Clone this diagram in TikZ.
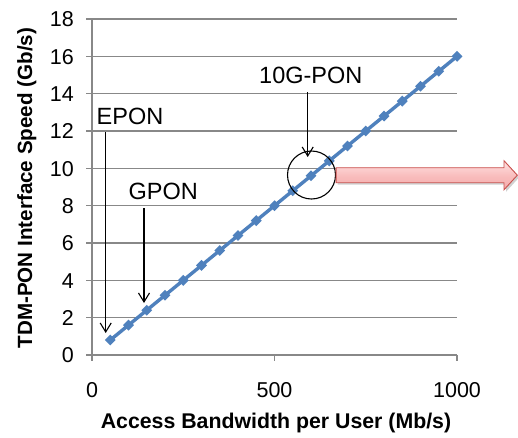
\documentclass[tikz,border=0pt]{standalone}
\usepackage{fontspec}
\setmainfont{Liberation Sans}
\usetikzlibrary{arrows.meta,shapes.geometric}
\definecolor{series}{HTML}{4F81BD}
\definecolor{gridc}{HTML}{888888}
\definecolor{arrowedge}{HTML}{C9504D}
\definecolor{pinktop}{HTML}{FFE2E2}
\definecolor{pinkmid}{HTML}{F9BEBE}
\definecolor{pinkbot}{HTML}{F4A9A9}

\begin{document}
\begin{tikzpicture}[x=1pt,y=-1pt,
  gridline/.style={gridc, line width=1.1pt},
  ticklab/.style={inner sep=0pt, font=\fontsize{21.5}{24}\selectfont},
  ytick/.style={ticklab, anchor=base east},
  xtick/.style={ticklab, anchor=base},
  axtitle/.style={inner sep=0pt, font=\bfseries\fontsize{21.3}{24}\selectfont, anchor=base},
  callout/.style={inner sep=0pt, anchor=base west, font=\fontsize{23.5}{26}\selectfont},
  pointer/.style={black, line width=1.1pt, -{Straight Barb[length=9pt,width=11pt]}},
  marker/.style={diamond, fill=series, inner sep=0pt, minimum size=11pt},
]
\useasboundingbox[fill=white] (0,0) rectangle (518,437);

% horizontal grid lines with their tick stubs
\foreach \v in {2,4,...,18}
  \draw[gridline] (86,{355-18.6667*\v}) -- (457,{355-18.6667*\v});
% axes and tick marks
\draw[gridline] (92,19) -- (92,355);
\draw[gridline] (86,355) -- (457,355);
\foreach \xv in {0,500,1000}
  \draw[gridline] ({92+0.365*\xv},355) -- ({92+0.365*\xv},361);

% tick labels
\foreach \v in {0,2,...,18}
  \node[ytick] (yl\v) at (74,{355-18.6667*\v+7.7}) {\v};
\foreach \xv in {0,500,1000}
  \node[xtick] (xl\xv) at ({92+0.365*\xv},397.7) {\xv};

% axis titles
\node[axtitle] (xtitle) at (276,428) {Access Bandwidth per User (Mb/s)};
\node[axtitle, rotate=90, font=\bfseries\fontsize{20.6}{23}\selectfont] (ytitle) at (32,188) {TDM-PON Interface Speed (Gb/s)};

% data series: speed = 16 x bandwidth
\foreach \i in {1,...,20}
  \coordinate (c\i) at ({92+0.365*50*\i},{355-18.6667*0.8*\i});
\draw[series, line width=3.4pt] (c1) -- (c20);
\foreach \i in {1,...,20}
  \node[marker] (m\i) at (c\i) {};

% highlight ring around the 10G-PON point
\node[circle, draw, line width=1.1pt, minimum size=48pt, inner sep=0pt] (ring) at (311.5,175) {};

% block arrow leaving the ring
\fill[black, opacity=0.18]
  (337.5,169.7) -- (506,169.7) -- (506,162.7) -- (519.3,177.2)
  -- (506,191.8) -- (506,184.7) -- (337.5,184.7) -- cycle;
\path[draw=arrowedge, line width=0.9pt, top color=pinktop, bottom color=pinkbot, middle color=pinkmid]
  (ring.east |- 0,167.7) -- (504,167.7) -- (504,160.7) -- (517.3,175.2)
  -- (504,189.8) -- (504,182.7) -- (ring.east |- 0,182.7) -- cycle;

% callout labels and their pointers
\node[callout] (epon) at (96.5,124.4) {EPON};
\node[callout] (gpon) at (128.5,199.4) {GPON};
\node[callout] (xgpon) at (259,83.3) {10G-PON};

\coordinate (eponS) at (105.7,132);
\coordinate (eponE) at (105.7,333);
\coordinate (gponS) at (144,208);
\coordinate (gponE) at (144,303);
\coordinate (xgponS) at (307.7,92);
\coordinate (xgponE) at (307.7,157);
\draw[pointer] (eponS) -- (eponE);
\draw[pointer] (gponS) -- (gponE);
\draw[pointer] (xgponS) -- (xgponE);
\end{tikzpicture}
\end{document}
